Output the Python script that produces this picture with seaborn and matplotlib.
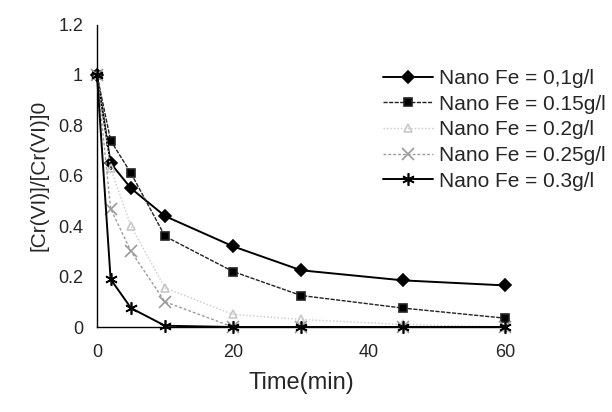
import pandas as pd
import numpy as np
import seaborn as sns
import matplotlib.pyplot as plt

# sampling times (min)
time = [0, 2, 5, 10, 20, 30, 45, 60]

fe_01 = [1.0, 0.65, 0.55, 0.44, 0.32, 0.225, 0.185, 0.165]
fe_015 = [1.0, 0.74, 0.61, 0.36, 0.22, 0.125, 0.075, 0.035]
fe_02 = [1.0, 0.63, 0.40, 0.155, 0.05, 0.03, 0.01, 0.0]
fe_025 = [1.0, 0.47, 0.30, 0.10, 0.0, 0.0, 0.0, 0.0]
fe_03 = [1.0, 0.19, 0.075, 0.005, 0.0, 0.0, 0.0, 0.0]

labels = ['Nano Fe = 0,1g/l', 'Nano Fe = 0.15g/l', 'Nano Fe = 0.2g/l',
          'Nano Fe = 0.25g/l', 'Nano Fe = 0.3g/l']
series = [fe_01, fe_015, fe_02, fe_025, fe_03]

# long form table for seaborn
df = pd.concat([pd.DataFrame({'time': time, 'ratio': s, 'dose': lab})
                for s, lab in zip(series, labels)], ignore_index=True)

sns.set_style('white')
plt.rcParams['font.family'] = ['Liberation Sans', 'DejaVu Sans']

styles = {
    labels[0]: dict(color='black', marker='D', ls='-', lw=1.4, ms=6, mfc='black'),
    labels[1]: dict(color='#222222', marker='s', ls=(0, (3, 1)), lw=1.0, ms=6, mfc='black'),
    labels[2]: dict(color='#c8c8c8', marker='^', ls=(0, (1, 1.5)), lw=1.0, ms=6, mfc='none'),
    labels[3]: dict(color='#9a9a9a', marker='x', ls=(0, (2, 1.5)), lw=1.0, ms=8, mfc='none'),
    labels[4]: dict(color='black', marker=(6, 2, 0), ls='-', lw=1.4, ms=9, mfc='black'),
}

fig = plt.figure(figsize=(6.12, 4.12), dpi=100)
ax = fig.add_axes([0.1585, 0.2063, 0.667, 0.734])

for lab in labels:
    st = styles[lab]
    sub = df[df['dose'] == lab]
    sns.lineplot(data=sub, x='time', y='ratio', ax=ax, label=lab,
                 color=st['color'], marker=st['marker'], linestyle=st['ls'],
                 linewidth=st['lw'], markersize=st['ms'],
                 markerfacecolor=st['mfc'], markeredgecolor=st['color'],
                 markeredgewidth=1.2, clip_on=False)

ax.set_xlim(0, 60)
ax.set_ylim(0, 1.2)
ax.set_xticks([0, 20, 40, 60])
ax.set_yticks([0, 0.2, 0.4, 0.6, 0.8, 1, 1.2])
ax.set_yticklabels(['0', '0.2', '0.4', '0.6', '0.8', '1', '1.2'])
for sp in ['top', 'right']:
    ax.spines[sp].set_visible(False)
for sp in ['left', 'bottom']:
    ax.spines[sp].set_color('black')
    ax.spines[sp].set_linewidth(1.0)
ax.tick_params(axis='both', direction='out', length=4, width=1, color='black',
               labelsize=13)
ax.tick_params(axis='x', pad=8)
ax.tick_params(axis='y', pad=6)

ax.set_xlabel('Time(min)', fontsize=17, labelpad=8)
ax.set_ylabel('[Cr(VI)]/[Cr(VI)]0', fontsize=15, labelpad=7)

ax.legend(loc='upper left', bbox_to_anchor=(0.625, 1 - 69 / 412),
          bbox_transform=fig.transFigure, frameon=False, fontsize=15,
          handlelength=2.4, handletextpad=0.3, labelspacing=0.32,
          borderpad=0, borderaxespad=0)

fig.savefig('out.png', dpi=100)
